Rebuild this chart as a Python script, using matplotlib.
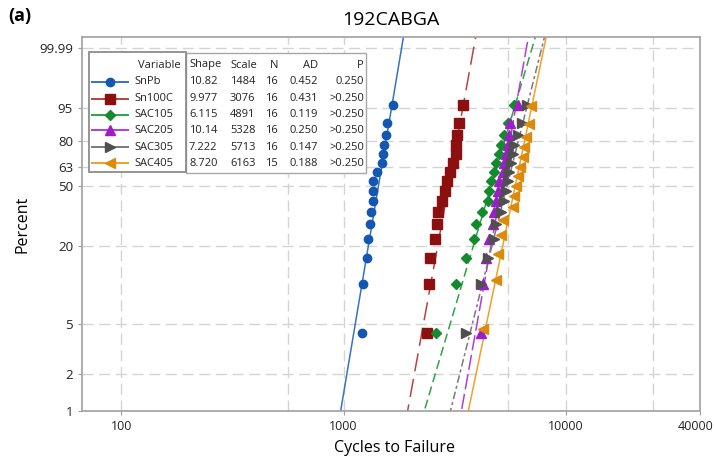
import numpy as np
import matplotlib.pyplot as plt
from matplotlib.lines import Line2D
from matplotlib.patches import Rectangle
from matplotlib.transforms import ScaledTranslation

plt.rcParams['font.family'] = ['Open Sans', 'DejaVu Sans']

# Weibull fit summary (legend table)
names = ['SnPb', 'Sn100C', 'SAC105', 'SAC205', 'SAC305', 'SAC405']
shape = [10.82, 9.977, 6.115, 10.14, 7.222, 8.720]
shape_txt = ['10.82', '9.977', '6.115', '10.14', '7.222', '8.720']
scale = [1484, 3076, 4891, 5328, 5713, 6163]
n_obs = [16, 16, 16, 16, 16, 15]
ad = [0.452, 0.431, 0.119, 0.250, 0.147, 0.188]
p_val = ['0.250', '>0.250', '>0.250', '>0.250', '>0.250', '>0.250']

# plotting positions (percent)
pct16 = [4.27, 10.37, 16.46, 22.56, 28.66, 34.76, 40.85, 46.95,
         53.05, 59.15, 65.24, 71.34, 77.44, 83.54, 89.63, 95.73]
pct15 = [4.55, 11.04, 17.53, 24.03, 30.52, 37.01, 43.51, 50.00,
         56.49, 62.99, 69.48, 75.97, 82.47, 88.96, 95.45]

# cycles to failure
snpb = [1205, 1227, 1279, 1292, 1320, 1326, 1350, 1355,
        1361, 1408, 1483, 1510, 1519, 1555, 1565, 1674]
sn100c = [2365, 2422, 2447, 2579, 2630, 2655, 2755, 2860,
          2911, 3003, 3088, 3190, 3200, 3239, 3286, 3425]
sac105 = [2597, 3196, 3544, 3851, 3932, 4207, 4441, 4513,
          4595, 4753, 4838, 5007, 5096, 5257, 5480, 5831]
sac205 = [4141, 4215, 4362, 4513, 4675, 4753, 4838, 4925,
          5007, 5186, 5274, 5366, 5464, 5555, 5613, 6077]
sac305 = [3544, 4141, 4441, 4753, 4838, 5096, 5274, 5366,
          5464, 5555, 5654, 5754, 5849, 6060, 6318, 6673]
sac405 = [4215, 4838, 4925, 5096, 5186, 5754, 5813, 5955,
          6060, 6225, 6383, 6490, 6604, 6833, 6955]

data = [snpb, sn100c, sac105, sac205, sac305, sac405]
pcts = [pct16, pct16, pct16, pct16, pct16, pct15]

pt_colors = ['#1357b0', '#8c1010', '#138a2b', '#9a1fc6', '#4f4f4f', '#dc8a0c']
ln_colors = ['#3573c4', '#b6443e', '#2ea446', '#b03ed8', '#7a7a7a', '#f0a02e']
markers = ['o', 's', 'D', '^', '>', '<']
msizes = [6, 6.5, 5.5, 7, 7, 7]
styles = ['-', (0, (12, 5)), (0, (6, 3)), (0, (10, 3)), (0, (5, 2, 2, 2)), '-']

y_ticks = [1, 2, 5, 20, 50, 63, 80, 95, 99.99]
y_labels = ['1', '2', '5', '20', '50', '63', '80', '95', '99.99']
x_ticks = [100, 1000, 10000, 40000]
x_grid = [100, 560, 1000, 5500, 10000, 24700]


def wb(p):
    return np.log(-np.log(1 - np.asarray(p, dtype=float) / 100))


W, H = 716, 463
fig = plt.figure(figsize=(W / 100, H / 100), dpi=100)


def fx(px):
    return px / W


def fy(py):
    return 1 - py / H


ax = fig.add_axes([fx(82), fy(411), fx(700) - fx(82), fy(37) - fy(411)])
ax.set_xscale('log')
ytop = 2.43
ax.set_xlim(66.7, 40000)
ax.set_ylim(wb(1), ytop)

gridc = '#d4d4d4'
for v in x_grid:
    ax.axvline(v, color=gridc, lw=1, ls=(0, (8, 4)), zorder=0)
for v in y_ticks[1:]:
    ax.axhline(wb(v), color=gridc, lw=1, ls=(0, (8, 4)), zorder=0)

w_line = np.linspace(wb(0.5), ytop + 0.1, 100)
for i in range(len(names)):
    xl = scale[i] * np.exp(w_line / shape[i])
    ax.plot(xl, w_line, color=ln_colors[i], lw=1.1, ls=styles[i], zorder=2)
for i in range(len(names)):
    ax.plot(data[i], wb(pcts[i]), ls='none', marker=markers[i],
            ms=msizes[i], color=pt_colors[i], mec=pt_colors[i], zorder=3)

ax.set_yticks(wb(y_ticks))
ax.set_yticklabels(y_labels)
ax.set_xticks(x_ticks)
ax.set_xticklabels([str(v) for v in x_ticks])
ax.minorticks_off()
ax.tick_params(axis='both', length=3, color='#a0a0a0', labelsize=9.5,
               labelcolor='#222222')
ax.tick_params(axis='x', labelsize=9)
last = ax.get_xticklabels()[-1]
last.set_transform(last.get_transform() +
                   ScaledTranslation(-4 / 100, 0, fig.dpi_scale_trans))
for s in ax.spines.values():
    s.set_color('#a0a0a0')
    s.set_linewidth(1.2)

fig.text(fx(391), fy(20), '192CABGA', ha='center', va='center', fontsize=14)
fig.text(fx(8), fy(16), '(a)', ha='left', va='center', fontsize=13,
         fontweight='bold')
fig.text(fx(22), fy(224), 'Percent', ha='center', va='center', fontsize=11.5,
         rotation=90)
fig.text(fx(395), fy(448), 'Cycles to Failure', ha='center', va='center',
         fontsize=11.5)

# legend boxes
fig.patches.append(Rectangle((fx(186), fy(173)), fx(366) - fx(186),
                             fy(53) - fy(173), transform=fig.transFigure,
                             facecolor='white', edgecolor='#a8a8a8', lw=1,
                             zorder=5))
fig.patches.append(Rectangle((fx(89), fy(172)), fx(186) - fx(89),
                             fy(52) - fy(172), transform=fig.transFigure,
                             facecolor='white', edgecolor='#8c8c8c', lw=1.3,
                             zorder=5))

fs = 8
tc = '#222222'
hy = 65
fig.text(fx(181), fy(hy), 'Variable', ha='right', va='center', fontsize=fs,
         color=tc, zorder=6)
fig.text(fx(189), fy(hy), 'Shape', ha='left', va='center', fontsize=fs,
         color=tc, zorder=6)
fig.text(fx(230), fy(hy), 'Scale', ha='left', va='center', fontsize=fs,
         color=tc, zorder=6)
fig.text(fx(278), fy(hy), 'N', ha='right', va='center', fontsize=fs,
         color=tc, zorder=6)
fig.text(fx(318), fy(hy), 'AD', ha='right', va='center', fontsize=fs,
         color=tc, zorder=6)
fig.text(fx(364), fy(hy), 'P', ha='right', va='center', fontsize=fs,
         color=tc, zorder=6)

row_y = [82, 98.5, 114.5, 130.5, 147, 163]
for i in range(len(names)):
    ry = row_y[i]
    fig.add_artist(Line2D([fx(92), fx(128)], [fy(ry), fy(ry)],
                          color=ln_colors[i], lw=1.4, zorder=6))
    fig.add_artist(Line2D([fx(110)], [fy(ry)], marker=markers[i],
                          ms=msizes[i], color=pt_colors[i], ls='none',
                          zorder=7))
    fig.text(fx(134), fy(ry), names[i], ha='left', va='center', fontsize=fs,
             color=tc, zorder=6)
    fig.text(fx(189), fy(ry), shape_txt[i], ha='left', va='center',
             fontsize=fs, color=tc, zorder=6)
    fig.text(fx(230), fy(ry), str(scale[i]), ha='left', va='center',
             fontsize=fs, color=tc, zorder=6)
    fig.text(fx(278), fy(ry), str(n_obs[i]), ha='right', va='center',
             fontsize=fs, color=tc, zorder=6)
    fig.text(fx(318), fy(ry), f'{ad[i]:.3f}', ha='right', va='center',
             fontsize=fs, color=tc, zorder=6)
    fig.text(fx(364), fy(ry), p_val[i], ha='right', va='center',
             fontsize=fs, color=tc, zorder=6)

fig.savefig('out.png', dpi=100)
